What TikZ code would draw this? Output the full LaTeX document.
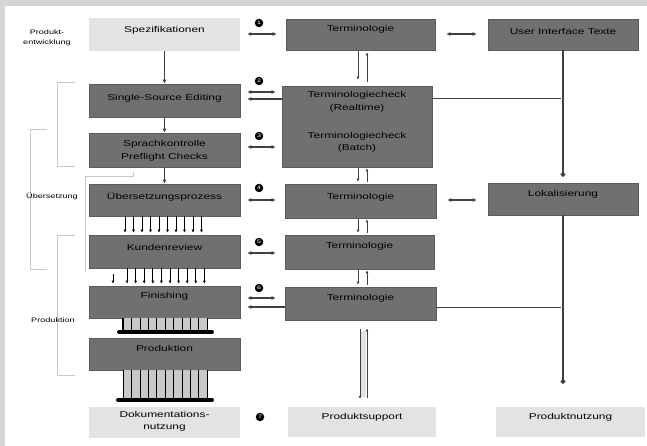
\documentclass[tikz,border=0pt]{standalone}
\usepackage{fontspec}
\setmainfont[FakeStretch=1.4]{Liberation Sans}
\usetikzlibrary{arrows.meta,calc}
\definecolor{frameC}{HTML}{D5D5D5}
\definecolor{boxdark}{HTML}{707070}
\definecolor{boxedge}{HTML}{5C5C5C}
\definecolor{boxlight}{HTML}{E3E3E3}
\definecolor{lineC}{HTML}{404040}
\definecolor{faintC}{HTML}{C8C8C8}
\definecolor{stripeC}{HTML}{C9C9C9}
\begin{document}
\begin{tikzpicture}[x=1pt,y=-1pt,
  dbox/.style={draw=boxedge,fill=boxdark,line width=0.6pt,minimum width=150pt,minimum height=33pt,inner sep=0pt},
  lbox/.style={fill=boxlight,minimum width=150pt,minimum height=31pt,inner sep=0pt},
  txt/.style={font=\fontsize{8.5}{12.5}\selectfont,align=center,inner sep=0pt},
  sidelabel/.style={font=\fontsize{6.5}{10}\selectfont,align=center,inner sep=0pt},
  numc/.style={circle,fill=black,text=white,inner sep=0pt,minimum size=8.5pt,font=\fontsize{5}{5}\selectfont},
  conn/.style={draw=lineC,line width=1.1pt},
  arrowdown/.style={-{Latex[length=4pt,width=4pt]}},
  arrowboth/.style={{Latex[length=4pt,width=4pt]}-{Latex[length=4pt,width=4pt]}},
  thinarrow/.style={draw=black,line width=0.7pt,-{Latex[length=3pt,width=3pt]}},
  faint/.style={draw=faintC,line width=0.8pt},
  dotend/.style={-{Circle[length=4.5pt]}}
]
% frame
\fill[frameC] (0,0) rectangle (647,446);
\fill[white] (5,6) rectangle (647,446);
\useasboundingbox (0,0) rectangle (647,446);

% side brackets
\draw[faint] (75,82) -- (57,82) -- (57,166) -- (75,166);
\draw[faint] (47,129) -- (30,129) -- (30,269) -- (47,269);
\draw[faint] (75,235) -- (57,235) -- (57,375) -- (75,375);
\draw[faint] (85,272) -- (85,176) -- (133,176) -- (133,172);
\node[sidelabel] (lbl1) at (47,38) {Produkt-\\entwicklung};
\node[sidelabel] (lbl2) at (52,196) {Übersetzung};
\node[sidelabel] (lbl3) at (53,320) {Produktion};

% left column
\node[lbox,minimum width=151pt,minimum height=33pt] (spez) at (164.5,34.5) {};
\node[dbox,minimum width=151pt,minimum height=33pt] (sse) at (164.5,100.5) {};
\node[dbox,minimum width=151pt,minimum height=34pt] (spr) at (164.5,150) {};
\node[dbox,minimum width=151pt,minimum height=32pt] (ueb) at (164.5,200) {};
\node[dbox,minimum width=151pt,minimum height=33pt] (kun) at (164.5,251.5) {};
\node[dbox,minimum width=151pt,minimum height=32pt] (fin) at (164.5,302) {};
\node[dbox,minimum width=151pt,minimum height=32pt] (prod) at (164.5,354) {};
\node[lbox,minimum width=151pt,minimum height=31pt] (doku) at (164.5,422.5) {};
\node[txt] (spezT) at (164.5,30) {Spezifikationen};
\node[txt] (sseT) at (164.5,98) {Single-Source Editing};
\node[txt] (sprT) at (164.5,151) {Sprachkontrolle\\Preflight Checks};
\node[txt] (uebT) at (164.5,197) {Übersetzungsprozess};
\node[txt] (kunT) at (164.5,247) {Kundenreview};
\node[txt] (finT) at (164.5,296) {Finishing};
\node[txt] (prodT) at (164.5,348) {Produktion};
\node[txt] (dokuT) at (164.5,421.5) {Dokumentations-\\nutzung};

% middle column
\node[dbox,minimum width=149pt,minimum height=31pt] (term1) at (360.5,34.5) {};
\node[dbox,minimum width=150pt,minimum height=81pt] (check) at (357,126.5) {};
\node[dbox,minimum width=151pt,minimum height=34pt] (term3) at (360.5,201) {};
\node[dbox,minimum width=149pt,minimum height=34pt] (term4) at (359.5,252) {};
\node[dbox,minimum width=151pt,minimum height=33pt] (term5) at (360.5,303.5) {};
\node[lbox,minimum width=148pt,minimum height=30pt] (psup) at (362,422) {};
\node[txt] (term1T) at (360.5,29.5) {Terminologie};
\node[txt] (checkT1) at (357,102) {Terminologiecheck\\(Realtime)};
\node[txt] (checkT2) at (357,142.5) {Terminologiecheck\\(Batch)};
\node[txt] (term3T) at (360.5,197) {Terminologie};
\node[txt] (term4T) at (359.5,246.5) {Terminologie};
\node[txt] (term5T) at (360.5,298) {Terminologie};
\node[txt] (psupT) at (362,417) {Produktsupport};

% right column
\node[dbox,minimum width=150pt,minimum height=31pt] (ui) at (563,34.5) {};
\node[dbox,minimum width=150pt,minimum height=32pt] (lok) at (563,199) {};
\node[lbox,minimum width=149pt,minimum height=30pt] (pnutz) at (570.5,422) {};
\node[txt] (uiT) at (563,31) {User Interface Texte};
\node[txt] (lokT) at (563,194) {Lokalisierung};
\node[txt] (pnutzT) at (570.5,417) {Produktnutzung};

% circled numbers
\node[numc] (n1) at (259,23) {1};
\node[numc] (n2) at (259,81) {2};
\node[numc] (n3) at (259,136) {3};
\node[numc] (n4) at (259,188) {4};
\node[numc] (n5) at (259,242) {5};
\node[numc] (n6) at (259,288) {6};
\node[numc] (n7) at (260,417) {7};

% helper coordinates
\coordinate (y1) at (0,34);
\coordinate (y2) at (0,92);
\coordinate (y2b) at (0,99);
\coordinate (y3) at (0,147);
\coordinate (y4) at (0,200);
\coordinate (y5) at (0,253);
\coordinate (y6) at (0,298);
\coordinate (y6b) at (0,307);
\coordinate (mL) at (358,0);
\coordinate (mR) at (367,0);
\coordinate (pL) at (360,0);

% left <-> middle arrows
\draw[conn,arrowboth,line width=1.1pt,shorten <=7pt,shorten >=9pt] (spez.east |- y1) -- (term1.west |- y1);
\draw[conn,arrowboth,line width=1.1pt,shorten <=7pt,shorten >=6pt] (sse.east |- y2) -- (check.west |- y2);
\draw[conn,arrowdown,line width=1.1pt,shorten >=7pt] (check.west |- y2b) -- (sse.east |- y2b);
\draw[conn,arrowboth,line width=1.1pt,shorten <=7pt,shorten >=6pt] (spr.east |- y3) -- (check.west |- y3);
\draw[conn,arrowboth,line width=1.1pt,shorten <=7pt,shorten >=9pt] (ueb.east |- y4) -- (term3.west |- y4);
\draw[conn,arrowboth,line width=1.1pt,shorten <=7pt,shorten >=9pt] (kun.east |- y5) -- (term4.west |- y5);
\draw[conn,arrowboth,line width=1.1pt,shorten <=7pt,shorten >=9pt] (fin.east |- y6) -- (term5.west |- y6);
\draw[conn,arrowdown,line width=1.1pt,shorten >=7pt] (term5.west |- y6b) -- (fin.east |- y6b);

% middle <-> right arrows
\draw[conn,arrowboth,line width=1.1pt,shorten <=11pt,shorten >=11pt] (term1.east |- y1) -- (ui.west |- y1);
\draw[conn,arrowboth,line width=1.1pt,shorten <=11pt,shorten >=11pt] (term3.east |- y4) -- (lok.west |- y4);

% right column connectors
\draw[conn,line width=1pt] (check.east |- y2b) -- ([xshift=-2pt]ui.south |- y2b);
\draw[conn,line width=1pt] (term5.east |- y6b) -- ([xshift=-2pt]ui.south |- y6b);
\draw[conn,line width=1.6pt,dotend,shorten >=6pt] (ui.south) -- (ui.south |- lok.north);
\draw[conn,line width=1.6pt,dotend,shorten >=23pt] (lok.south) -- (lok.south |- pnutz.north);

% middle vertical pairs
\draw[thinarrow,draw=lineC,shorten <=1pt,shorten >=6pt] (term1.south -| mL) -- (check.north -| mL);
\draw[thinarrow,draw=lineC,shorten <=4pt,shorten >=2pt] (check.north -| mR) -- (term1.south -| mR);
\draw[thinarrow,draw=lineC,shorten <=1pt,shorten >=2pt] (check.south -| mL) -- (term3.north -| mL);
\draw[thinarrow,draw=lineC,shorten <=2pt,shorten >=1pt] (term3.north -| mR) -- (check.south -| mR);
\draw[thinarrow,draw=lineC,shorten <=1pt,shorten >=2pt] (term3.south -| mL) -- (term4.north -| mL);
\draw[thinarrow,draw=lineC,shorten <=2pt,shorten >=1pt] (term4.north -| mR) -- (term3.south -| mR);
\draw[thinarrow,draw=lineC,shorten <=1pt,shorten >=2pt] (term4.south -| mL) -- (term5.north -| mL);
\draw[thinarrow,draw=lineC,shorten <=2pt,shorten >=1pt] (term5.north -| mR) -- (term4.south -| mR);
\fill[boxlight] (361,331) rectangle (366,397);
\draw[thinarrow,draw=lineC,shorten <=9pt,shorten >=8pt] (term5.south -| pL) -- (psup.north -| pL);
\draw[thinarrow,draw=lineC,shorten <=9pt,shorten >=8pt] (psup.north -| mR) -- (term5.south -| mR);

% left column connectors
\draw[conn,line width=1.3pt,arrowdown] (spez.south) -- (sse.north);
\draw[conn,line width=1.3pt,arrowdown] (sse.south) -- (spr.north);
\draw[conn,line width=1.3pt,arrowdown] (spr.south) -- (ueb.north);
\foreach \i in {0,...,9} {
  \coordinate (ax\i) at ({125+8.5*\i},0);
  \coordinate (bx\i) at ({127+8.6*\i},0);
  \draw[thinarrow,shorten >=2pt] (ueb.south -| ax\i) -- (kun.north -| ax\i);
  \draw[thinarrow,shorten >=2pt] (kun.south -| bx\i) -- (fin.north -| bx\i);
}
\coordinate (cx) at (113,0);
\draw[thinarrow,shorten <=6pt,shorten >=2pt] (kun.south -| cx) -- (fin.north -| cx);

% bars under Finishing and Produktion
\coordinate (bar1L) at (119,332);
\coordinate (bar1R) at (212,332);
\coordinate (bar2L) at (118,400);
\coordinate (bar2R) at (212,400);
\fill[stripeC] (123,318) rectangle (207,330);
\fill[stripeC] (123,370) rectangle (207,398);
\foreach \i in {0,...,10} {
  \coordinate (sx\i) at ({123+8.4*\i},0);
  \draw[black,line width=0.6pt] (fin.south -| sx\i) -- (bar1L -| sx\i);
  \draw[black,line width=0.6pt] (prod.south -| sx\i) -- (bar2L -| sx\i);
}
\draw[black,line width=1.4pt] (fin.south -| sx0) -- (bar1L -| sx0);
\draw[black,line width=4pt,line cap=round] (bar1L) -- (bar1R);
\draw[black,line width=4pt,line cap=round] (bar2L) -- (bar2R);
\end{tikzpicture}
\end{document}
